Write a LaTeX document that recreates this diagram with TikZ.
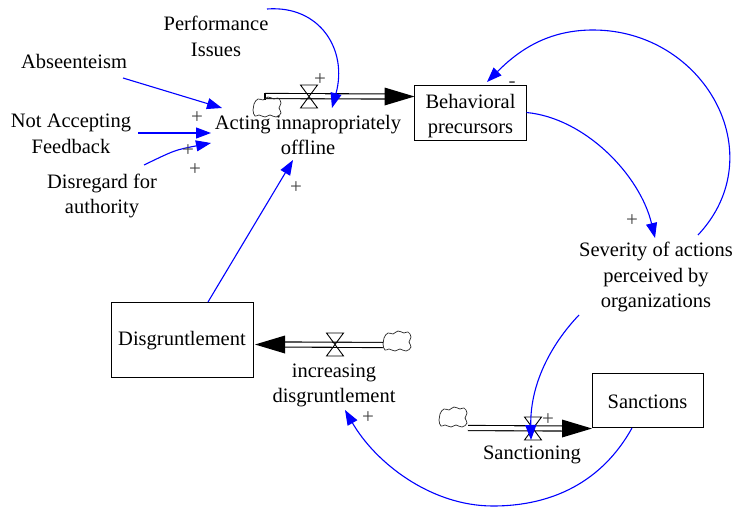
\documentclass[tikz,border=0pt]{standalone}
\usepackage{fontspec}
\setmainfont{Liberation Serif}
\usetikzlibrary{arrows.meta,calc}

\tikzset{
  every node/.style={font=\fontsize{20.5}{25.8}\selectfont, inner sep=0pt, outer sep=0pt},
  var/.style={align=center},
  stockbox/.style={draw, line width=1pt},
  link/.style={draw={rgb,255:red,0;green,0;blue,255}, line width=1.1pt,
    -{Triangle[length=15pt,width=11pt]}},
  sign/.style={font=\fontsize{21}{21}\selectfont, text=black!75},
  pipe/.style={draw, double, double distance=4pt, line width=1.1pt},
  valvebox/.style={minimum width=17pt, minimum height=23pt},
  sourcenode/.style={minimum width=29pt, minimum height=21pt},
  flowtip/.style={fill=black},
  cloud/.pic={
    \draw[line width=0.7pt, black!85] plot[smooth cycle, tension=0.8] coordinates
      {(-14,3) (-13,-3) (-9,-8) (-4,-7) (1,-10) (7,-8) (11,-9) (14,-4)
       (12,1) (14,6) (9,10) (3,8) (-2,10) (-8,8) (-12,9)};
  }
}

\newcommand{\valvedraw}[1]{%
  \draw[line width=0.9pt] (#1.north west) -- (#1.north east) -- (#1.south west)
    -- (#1.south east) -- cycle;}

\begin{document}
\begin{tikzpicture}[x=1pt,y=-1pt]
\useasboundingbox (0,0) rectangle (738,506);

% ---- variables ----
\node[var] (perf) at (216,36) {Performance\\Issues};
\node[var] (abs) at (74,61) {Abseenteism};
\node[var] (naf) at (71,133.5) {Not Accepting\\Feedback};
\node[var] (dis) at (102,196) {Disregard for\\authority};
\node[var] (acting) at (308,135) {Acting innapropriately\\offline};
\node[var] (sev) at (656,277) {Severity of actions\\perceived by\\organizations};
\node[var] (incr) at (334,385.5) {increasing\\disgruntlement};
\node[var] (sancing) at (532,455) {Sanctioning};

% ---- stocks ----
\node[stockbox, minimum width=112pt, minimum height=55pt] (beh) at (470.5,112.5) {};
\node[var] (beh-t) at (470.5,116) {Behavioral\\precursors};
\node[stockbox, minimum width=142pt, minimum height=75pt] (disg) at (182,339.5) {};
\node[var] (disg-t) at (182,341) {Disgruntlement};
\node[stockbox, minimum width=111pt, minimum height=54pt] (sanc) at (647.5,400) {};
\node[var] (sanc-t) at (647.5,402) {Sanctions};

% ---- valves and sources ----
\node[valvebox] (v1) at (309,96.5) {};
\node[valvebox] (v2) at (335,344.5) {};
\node[valvebox] (v3) at (533,428.5) {};
\node[sourcenode] (c1) at (267,107) {};
\node[sourcenode] (c2) at (397,341) {};
\node[sourcenode] (c3) at (453,417) {};

% ---- flow pipes ----
\coordinate (p1) at ($(c1)+(-2,-11)$);
\draw[pipe] (p1) -- ($(beh.west |- v1)+(-29,0)$);
\draw[line width=1.1pt] ($(p1)+(0,-3.2)$) -- ($(p1)+(0,4)$);
\fill[flowtip] (beh.west |- v1) -- ++(-30,-9) -- ++(0,18) -- cycle;

\draw[pipe] ($(c2)+(-14,4)$) -- ($(disg.east |- v2)+(30,0)$);
\fill[flowtip] ($(disg.east |- v2)+(2,0)$) -- ++(30,-9) -- ++(0,18) -- cycle;

\draw[pipe] ($(c3)+(15,11)$) -- ($(sanc.west |- v3)+(-29,0)$);
\fill[flowtip] (sanc.west |- v3) -- ++(-30,-9) -- ++(0,18) -- cycle;

\valvedraw{v1}
\valvedraw{v2}
\valvedraw{v3}
\pic at (c1) {cloud};
\pic at (c2) {cloud};
\pic at (c3) {cloud};

% ---- causal links ----
\draw[link] ($(perf)+(51,-27)$) .. controls (320,5) and (348,50) .. ($(acting)+(24,-27)$);
\draw[link] ($(abs)+(49,17)$) -- ($(acting)+(-86,-27)$);
\draw[link] ($(naf)+(67,-0.5)$) -- ($(acting)+(-97,-2)$);
\draw[link] ($(dis)+(42,-31)$) .. controls (175,150) .. ($(acting)+(-97,8)$);
\draw[link] ($(disg)+(26,-37.5)$) -- ($(acting)+(-15,25)$);
\draw[link] (beh.east) .. controls (585,118) and (640,175) .. ($(sev)+(-1,-39)$);
\draw[link] ($(sev)+(42,-42)$) .. controls (774,154) and (704,30) .. (593,30)
  .. controls (548,30) and (519,50) .. ($(beh)+(16.5,-30.5)$);
\draw[link] ($(sev)+(-77,38)$) .. controls (555,340) and (530,380) .. ($(sancing)+(-1,-15)$);
\draw[link] ($(sanc)+(-15.5,28)$) .. controls (602,482) and (552,506) .. (493,506)
  .. controls (430,506) and (375,462) .. ($(incr)+(11,24.5)$);

% ---- link polarities ----
\node[sign] (s1) at (320,80) {+};
\node[sign] (s2) at (197,118) {+};
\node[sign] (s3) at (188,150.5) {+};
\node[sign] (s4) at (195,170) {+};
\node[sign] (s5) at (296,188) {+};
\node[sign] (s6) at (632,221) {+};
\node[sign] (s7) at (512,85) {-};
\node[sign] (s8) at (548,420) {+};
\node[sign] (s9) at (368,418) {+};
\end{tikzpicture}
\end{document}
